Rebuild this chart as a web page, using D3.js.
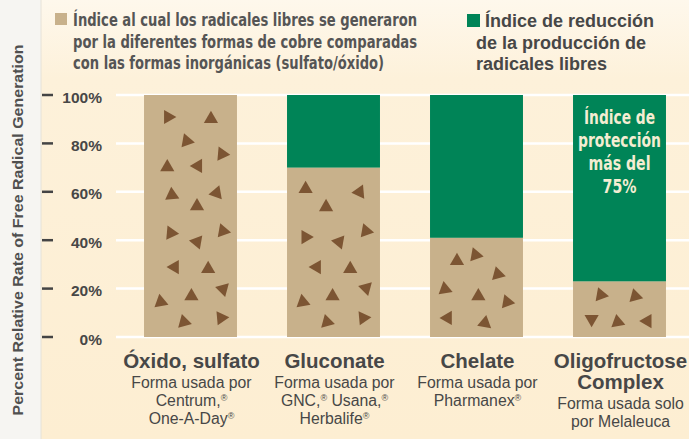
<!DOCTYPE html>
<html>
<head>
<meta charset="utf-8">
<script src="https://cdn.jsdelivr.net/npm/d3@7"></script>
<style>
  html, body { margin: 0; padding: 0; background: #fdf0d6; }
  svg { display: block; }
</style>
</head>
<body>
<svg id="chart" width="689" height="439"></svg>
<script>
// --- data ---
const categories = ['Óxido, sulfato', 'Gluconate', 'Chelate', 'Oligofructose Complex'];
const generation = [100, 70, 41, 23];   // tan part (%)
const reduction = [0, 30, 59, 77];      // green part (%)
const yTicks = [0, 20, 40, 60, 80, 100];
const titleLines = [['Óxido, sulfato'], ['Gluconate'], ['Chelate'], ['Oligofructose', 'Complex']];
const subLines = [
  ['Forma usada por', 'Centrum,®', 'One-A-Day®'],
  ['Forma usada por', 'GNC,® Usana,®', 'Herbalife®'],
  ['Forma usada por', 'Pharmanex®'],
  ['Forma usada solo', 'por Melaleuca']
];
const legendTan = ['Índice al cual los radicales libres se generaron',
  'por la diferentes formas de cobre comparadas',
  'con las formas inorgánicas (sulfato/óxido)'];
const legendGreen = ['Índice de reducción', 'de la producción de', 'radicales libres'];
const note = ['Índice de', 'protección', 'más del', '75%'];
const yTitle = 'Percent Relative Rate of Free Radical Generation';

// triangle texture inside the tan part: [fraction of bar width, value %, pointing angle]
const triangles = [
  [[.26,90.9,0],[.72,90.1,-90],[.46,81,10],[.84,75.6,125],[.25,70.2,-90],[.58,70.7,180],
   [.30,58.7,-95],[.78,59.5,170],[.57,54.1,-90],[.29,43,5],[.57,39.3,70],[.85,43.8,10],
   [.33,28.9,180],[.69,28.1,-90],[.85,19.8,-165],[.51,16.9,-90],[.18,14.5,-100],[.43,6.2,15],[.83,7.9,-5]],
  [[.20,61.2,-90],[.78,59.9,175],[.42,53.7,-90],[.20,41.3,0],[.56,39.3,70],[.85,43.8,10],
   [.32,28.9,180],[.68,28.1,-90],[.85,20.2,-165],[.49,16.9,-90],[.17,14.5,-100],[.43,6.2,15],[.82,7.9,-5]],
  [[.29,31.4,-90],[.49,33.9,130],[.73,26,15],[.16,19.8,20],[.52,16.9,-90],[.83,14.5,-110],[.19,7.9,180],[.59,5.8,160]],
  [[.30,17.4,10],[.67,16.9,15],[.20,7.4,90],[.48,6.2,140],[.80,6.6,180]]
];

const TAN = '#c8b18b', GREEN = '#008457', BROWN = '#7c5533', TEXT = '#474747';
const NARROW = '"Liberation Sans Narrow", "DejaVu Sans Condensed", "Arial Narrow", sans-serif';
const SANS = '"Liberation Sans", Arial, Helvetica, sans-serif';

const svg = d3.select('#chart');
const W = 689, H = 439;

// background
const defs = svg.append('defs');
const grad = defs.append('linearGradient').attr('id', 'bg').attr('x1', 0).attr('y1', 0).attr('x2', 0).attr('y2', 1);
grad.append('stop').attr('offset', '0%').attr('stop-color', '#fef8ec');
grad.append('stop').attr('offset', '18%').attr('stop-color', '#fdf1da');
grad.append('stop').attr('offset', '100%').attr('stop-color', '#fdeed2');
svg.append('rect').attr('width', W).attr('height', H).attr('fill', 'url(#bg)');
svg.append('rect').attr('width', 41).attr('height', H).attr('fill', '#f6f5f2');
svg.append('line').attr('x1', 41).attr('x2', 41).attr('y1', 0).attr('y2', H)
  .attr('stroke', '#e6e2d8').attr('stroke-width', 1);

// scales
const x = d3.scaleBand().domain(categories).range([119, 691]).paddingInner(0.35).paddingOuter(0.175);
const y = d3.scaleLinear().domain([0, 100]).range([337, 95]);

// grid lines
svg.append('g').selectAll('line').data(yTicks).join('line')
  .attr('x1', 116).attr('x2', W)
  .attr('y1', d => y(d)).attr('y2', d => y(d))
  .attr('stroke', '#ffffff').attr('stroke-width', 2.5);

// y axis ticks + labels
const axis = svg.append('g');
axis.selectAll('line').data(yTicks).join('line')
  .attr('x1', 42).attr('x2', 53)
  .attr('y1', d => y(d)).attr('y2', d => y(d))
  .attr('stroke', '#444').attr('stroke-width', 2.5);
axis.selectAll('text').data(yTicks).join('text')
  .attr('x', 102).attr('y', d => y(d) + 7.5)
  .attr('text-anchor', 'end')
  .attr('font-family', SANS).attr('font-weight', 'bold').attr('font-size', '15.5px')
  .attr('fill', TEXT)
  .text(d => d + '%');

// y title
svg.append('text')
  .attr('transform', 'translate(23,230) rotate(-90)')
  .attr('text-anchor', 'middle')
  .attr('font-family', SANS).attr('font-weight', 'bold').attr('font-size', '14.5px')
  .attr('fill', '#505050')
  .attr('textLength', 371).attr('lengthAdjust', 'spacingAndGlyphs')
  .text(yTitle);

// bars
const bars = svg.append('g');
bars.selectAll('rect.gen').data(categories).join('rect')
  .attr('class', 'gen')
  .attr('x', d => x(d)).attr('width', x.bandwidth())
  .attr('y', (d, i) => y(generation[i]))
  .attr('height', (d, i) => y(0) - y(generation[i]))
  .attr('fill', TAN);
bars.selectAll('rect.red').data(categories).join('rect')
  .attr('class', 'red')
  .attr('x', d => x(d)).attr('width', x.bandwidth())
  .attr('y', (d, i) => y(generation[i] + reduction[i]))
  .attr('height', (d, i) => y(generation[i]) - y(generation[i] + reduction[i]))
  .attr('fill', GREEN);

// triangle texture
const r = 8.2;
const tri = `M${r},0L${-r / 2},${r * 0.866}L${-r / 2},${-r * 0.866}Z`;
categories.forEach((c, i) => {
  svg.append('g').selectAll('path').data(triangles[i]).join('path')
    .attr('d', tri)
    .attr('transform', t => `translate(${x(c) + t[0] * x.bandwidth()},${y(t[1])}) rotate(${t[2]})`)
    .attr('fill', BROWN);
});

// note inside last bar
const noteW = [71, 83, 62, 34];
svg.append('g').selectAll('text').data(note).join('text')
  .attr('x', x(categories[3]) + x.bandwidth() / 2)
  .attr('y', (d, i) => 124 + i * 23)
  .attr('text-anchor', 'middle')
  .attr('font-family', NARROW).attr('font-weight', 'bold').attr('font-size', '19.5px')
  .attr('fill', '#f4edd2')
  .attr('textLength', (d, i) => noteW[i]).attr('lengthAdjust', 'spacingAndGlyphs')
  .text(d => d);

// category labels
function addRich(sel, str) {
  const parts = str.split('®');
  parts.forEach((p, k) => {
    if (p) sel.append('tspan').attr('dy', k > 0 ? 5 : 0).text(p);
    else if (k > 0) sel.append('tspan').attr('dy', 5).text('');
    if (k < parts.length - 1) sel.append('tspan').attr('dy', -5).attr('font-size', '9px').text('®');
  });
}
categories.forEach((c, i) => {
  const cx = x(c) + x.bandwidth() / 2 + 1;
  const g = svg.append('g');
  titleLines[i].forEach((t, k) => {
    g.append('text').attr('x', cx).attr('y', 368 + k * 21)
      .attr('text-anchor', 'middle')
      .attr('font-family', SANS).attr('font-weight', 'bold').attr('font-size', '20.5px')
      .attr('fill', TEXT).text(t);
  });
  const base = 368 + (titleLines[i].length - 1) * 21 + 20;
  subLines[i].forEach((t, k) => {
    const tx = g.append('text').attr('x', cx).attr('y', base + k * 18)
      .attr('text-anchor', 'middle')
      .attr('font-family', SANS).attr('font-size', '15.8px')
      .attr('fill', TEXT);
    addRich(tx, t);
  });
});

// legend
const leg = svg.append('g');
leg.append('rect').attr('x', 55).attr('y', 13).attr('width', 12).attr('height', 12).attr('fill', TAN);
const tanW = [344, 344, 311];
leg.selectAll('text.tan').data(legendTan).join('text')
  .attr('class', 'tan')
  .attr('x', 73).attr('y', (d, i) => 26 + i * 21.5)
  .attr('font-family', NARROW).attr('font-weight', 'bold').attr('font-size', '17px')
  .attr('fill', '#555')
  .attr('textLength', (d, i) => tanW[i]).attr('lengthAdjust', 'spacingAndGlyphs')
  .text(d => d);
leg.append('rect').attr('x', 467).attr('y', 14).attr('width', 13).attr('height', 13).attr('fill', GREEN);
leg.selectAll('text.grn').data(legendGreen).join('text')
  .attr('class', 'grn')
  .attr('x', (d, i) => i === 0 ? 485 : 476).attr('y', (d, i) => 27 + i * 21.5)
  .attr('font-family', SANS).attr('font-weight', 'bold').attr('font-size', '18px')
  .attr('fill', TEXT)
  .text(d => d);
</script>
</body>
</html>
